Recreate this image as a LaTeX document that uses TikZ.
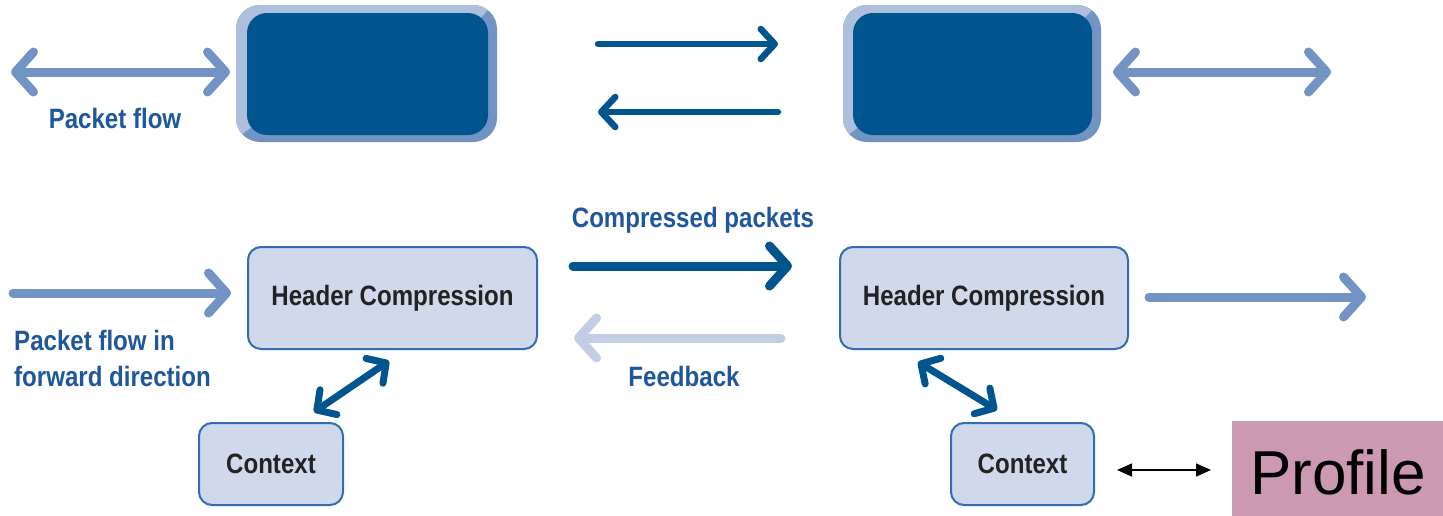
\documentclass[tikz,border=0pt]{standalone}
\usepackage{fontspec}
\usetikzlibrary{arrows.meta}
\setmainfont{Liberation Sans}
\newfontfamily\labfont[FakeStretch=0.86]{Liberation Sans Bold}

\definecolor{navy}{HTML}{00558F}
\definecolor{midblue}{HTML}{7194C4}
\definecolor{paleblue}{HTML}{AEBFDE}
\definecolor{fadeblue}{HTML}{C3CEE6}
\definecolor{boxfill}{HTML}{CFD9EB}
\definecolor{boxline}{HTML}{2F6FAE}
\definecolor{labblue}{HTML}{1F579C}
\definecolor{textdark}{HTML}{222222}
\definecolor{mauve}{HTML}{CC99B3}

\tikzset{
  chev/.tip={Straight Barb[length=18pt,width=40pt,round]},
  smallchev/.tip={Straight Barb[length=14pt,width=30pt,round]},
  flow/.style={line width=9pt, line cap=round},
  thinflow/.style={line width=6.5pt, line cap=round},
  diagflow/.style={line width=7pt, line cap=round, navy},
  darkbox/.style={rectangle, rounded corners=20pt, fill=navy, inner sep=0pt},
  hcbox/.style={rectangle, rounded corners=13pt, fill=boxfill, draw=boxline,
    line width=2pt, inner sep=0pt, text=textdark,
    font=\labfont\fontsize{28}{34}\selectfont},
  label/.style={text=labblue, inner sep=0pt, font=\labfont\fontsize{28}{36}\selectfont},
}

\begin{document}
\begin{tikzpicture}[x=1pt,y=-1pt]
\useasboundingbox (0,0) rectangle (1443,515);
\fill[white] (0,0) rectangle (1443,515);

% two-tone frames behind the dark upper boxes
\foreach \xa/\xb in {236/497, 843/1101}{
  \fill[midblue, rounded corners=24pt] (\xa,5) rectangle (\xb,142);
  \begin{scope}
    \clip (\xa-5,0) -- (\xb,0) -- (\xb-20,22) -- (\xa+20,124) -- (\xa-5,142) -- cycle;
    \fill[paleblue, rounded corners=24pt] (\xa,5) rectangle (\xb,142);
  \end{scope}
}

% upper row
\node[darkbox, minimum width=241pt, minimum height=122pt] (tl) at (367.5,74) {};
\node[darkbox, minimum width=239pt, minimum height=122pt] (tr) at (972.5,74) {};

% lower row
\node[hcbox, minimum width=289pt, minimum height=102pt] (hcl) at (392.5,298) {Header Compression};
\node[hcbox, minimum width=288pt, minimum height=102pt] (hcr) at (984,298) {Header Compression};
\node[hcbox, minimum width=144pt, minimum height=82pt] (ctxl) at (271,464) {Context};
\node[hcbox, minimum width=143pt, minimum height=82pt] (ctxr) at (1022.5,464) {Context};
\node[rectangle, fill=mauve, minimum width=212pt, minimum height=96pt, inner sep=0pt,
      text height=51pt, text depth=0pt, font=\fontsize{62}{62}\selectfont] (prof) at (1338,469) {Profile};

% labels
\node[label] (lpf) at (115,118) {Packet flow};
\node[label, anchor=west, align=left] (lfwd) at (14,358) {Packet flow in\\forward direction};
\node[label] (lcp) at (693,220) {Compressed packets};
\node[label] (lfb) at (684,376) {Feedback};

% free ends of the connectors
\coordinate (pl0) at (11,72);
\coordinate (pl1) at (230,72);
\coordinate (pr0) at (1113,72);
\coordinate (pr1) at (1331,72);
\coordinate (ma0) at (598,44);
\coordinate (ma1) at (778,44);
\coordinate (mb0) at (598,112);
\coordinate (mb1) at (778,112);
\coordinate (fw0) at (13,293);
\coordinate (fw1) at (231,293);
\coordinate (cp0) at (573,266);
\coordinate (cp1) at (792,266);
\coordinate (fb0) at (574,338);
\coordinate (fb1) at (781,338);
\coordinate (out0) at (1149,297);
\coordinate (out1) at (1366,297);
\coordinate (dl0) at (314,412);
\coordinate (dl1) at (389,361);
\coordinate (dr0) at (918,362);
\coordinate (dr1) at (997,410);
\coordinate (sp0) at (1117,470);
\coordinate (sp1) at (1211,470);

% upper connectors
\draw[flow, midblue, chev-chev] (pl0) -- (pl1);
\draw[flow, midblue, chev-chev] (pr0) -- (pr1);
\draw[thinflow, navy, -smallchev] (ma0) -- (ma1);
\draw[thinflow, navy, -smallchev] (mb1) -- (mb0);

% lower connectors
\draw[flow, midblue, -chev] (fw0) -- (fw1);
\draw[flow, navy, -chev] (cp0) -- (cp1);
\draw[flow, fadeblue, -chev] (fb1) -- (fb0);
\draw[flow, midblue, -chev] (out0) -- (out1);
\draw[diagflow, smallchev-smallchev] (dl0) -- (dl1);
\draw[diagflow, smallchev-smallchev] (dr0) -- (dr1);
\draw[line width=1.5pt, black, {Triangle[length=15pt,width=13pt]}-{Triangle[length=15pt,width=13pt]}] (sp0) -- (sp1);
\end{tikzpicture}
\end{document}
